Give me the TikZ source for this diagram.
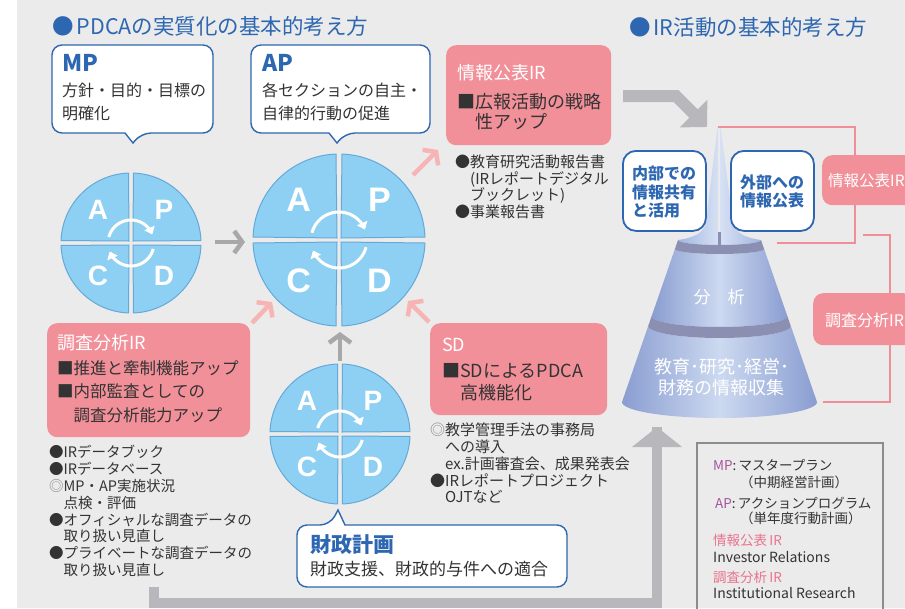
\documentclass[tikz,border=0pt]{standalone}
\usepackage{fontspec}
\setmainfont{Noto Sans CJK JP}
\newfontfamily\wheelfont{Liberation Sans}
\usetikzlibrary{arrows.meta}

\definecolor{pagebg}{HTML}{EBEBEB}
\definecolor{mainblue}{HTML}{2E67B1}
\definecolor{pinkfill}{HTML}{F2909A}
\definecolor{txtdark}{HTML}{333333}
\definecolor{arrowgray}{HTML}{B7B7BC}
\definecolor{chevgray}{HTML}{A8A8A8}
\definecolor{chevpink}{HTML}{F6B4B4}
\definecolor{pinkline}{HTML}{EF8E97}
\definecolor{legendline}{HTML}{8C8C8C}
\definecolor{legpurple}{HTML}{A4559B}
\definecolor{legpink}{HTML}{EA728D}
\definecolor{wheelfill}{HTML}{8ED0F4}
\definecolor{wheeledge}{HTML}{66A9D7}
\definecolor{coneside}{HTML}{8A9DD1}
\definecolor{conemid}{HTML}{CCD9F0}
\definecolor{conering}{HTML}{8B8FB1}
\definecolor{spireside}{HTML}{A2B6E2}
\definecolor{spiremid}{HTML}{D8E2F4}
\definecolor{markgray}{HTML}{8A8A8A}

\newcommand\fs[2]{\fontsize{#1}{#2}\selectfont}

% PDCA wheel: #1 name prefix, #2 cx, #3 cy, #4 radius, #5 letter size, #6 cycle radius
\newcommand\pdcawheel[6]{%
  \foreach \a/\sx/\sy in {180/-1/-1,270/1/-1,0/1/1,90/-1/1}{%
    \filldraw[wheelpart] ({#2+2*\sx},{#3+2*\sy}) -- plot[domain=\a+2:\a+88,samples=40] ({#2+#4*cos(\x)},{#3+#4*sin(\x)}) -- cycle;
  }
  \node[wheelletter,font=\wheelfont\bfseries\fs{#5}{#5}] (#1A) at ({#2-0.47*#4},{#3-0.47*#4}) {A};
  \node[wheelletter,font=\wheelfont\bfseries\fs{#5}{#5}] (#1P) at ({#2+0.47*#4},{#3-0.47*#4}) {P};
  \node[wheelletter,font=\wheelfont\bfseries\fs{#5}{#5}] (#1C) at ({#2-0.47*#4},{#3+0.47*#4}) {C};
  \node[wheelletter,font=\wheelfont\bfseries\fs{#5}{#5}] (#1D) at ({#2+0.47*#4},{#3+0.47*#4}) {D};
  \draw[cyclearrow] plot[domain=195:338,samples=40] ({#2+#6*cos(\x)},{#3+#6*sin(\x)});
  \draw[cyclearrow] plot[domain=15:158,samples=40] ({#2+#6*cos(\x)},{#3+#6*sin(\x)});
}

\begin{document}
\begin{tikzpicture}[x=1pt,y=-1pt,
  bodytext/.style={inner sep=0pt,anchor=west,align=left,text=txtdark},
  whitetext/.style={inner sep=0pt,anchor=west,align=left,text=white},
  bluetext/.style={inner sep=0pt,anchor=west,align=left,text=mainblue},
  pinkbox/.style={fill=pinkfill,rounded corners=10pt,inner sep=0pt,anchor=north west},
  bluebox/.style={draw=mainblue,line width=1.8pt,fill=white,rounded corners=13pt,inner sep=0pt,anchor=north west},
  callout/.style={draw=mainblue,line width=1.4pt,fill=white},
  wheelpart/.style={fill=wheelfill,draw=wheeledge,line width=1pt},
  wheelletter/.style={inner sep=0pt,text=white},
  cyclearrow/.style={draw=white,line width=3pt,-{Triangle[length=7pt,width=11pt]}},
  grayband/.style={draw=arrowgray,line width=10pt,line join=miter},
  chevgrayarrow/.style={draw=chevgray,line width=4.5pt,-{Straight Barb[length=8pt,width=22pt]}},
  chevpinkarrow/.style={draw=chevpink,line width=4.5pt,-{Straight Barb[length=8pt,width=22pt]}},
  bracket/.style={draw=pinkline,line width=2.5pt},
]
\useasboundingbox (0,0) rectangle (905,608);
\fill[white] (0,0) rectangle (905,608);
\fill[pagebg] (17,0) rectangle (905,608);

% ---------- headings ----------
\node[bluetext,font=\fs{21.5}{21.5}] (pdcaHead) at (52,26) {●\hspace{3pt}PDCAの実質化の基本的考え方};
\node[bluetext,font=\fs{21.5}{21.5}] (irHead) at (629,27) {●\hspace{3pt}IR活動の基本的考え方};

% ---------- long gray arrows ----------
\coordinate (listFoot) at (154,587);
\coordinate (baseCorner) at (657,603);
\coordinate (coneFoot) at (657,427);
\draw[grayband] (listFoot) |- (baseCorner) -- (coneFoot);
\fill[arrowgray] (632,447) -- (682,447) -- (coneFoot) -- cycle;

\coordinate (kohoOut) at (623,96);
\coordinate (kohoBend) at (676,96);
\coordinate (coneTopIn) at (707,127);
\draw[draw=arrowgray,line width=12pt,line join=miter,-{Triangle[length=19pt,width=38pt]}] (kohoOut) -- (kohoBend) -- (coneTopIn);

% ---------- cone ----------
% spire halves
\shade[left color=spireside,right color=spiremid]
  (717.5,127) -- (706,222) .. controls (704,234) and (692,238) .. (678,240)
  -- plot[domain=0:90,samples=20] ({719.5-41.5*cos(\x)},{240+5*sin(\x)})
  -- (718,245) -- (718,130) -- cycle;
\shade[left color=spiremid,right color=spireside]
  (720.5,127) -- (733,222) .. controls (735,234) and (747,238) .. (761,240)
  -- plot[domain=0:90,samples=20] ({719.5+41.5*cos(\x)},{240+5*sin(\x)})
  -- (720,245) -- (720,130) -- cycle;
% middle section
\shade[left color=coneside,right color=coneside,middle color=conemid]
  (674.9,249) -- plot[domain=0:180,samples=40] ({719.5-44.6*cos(\x)},{249+5*sin(\x)})
  -- (787.3,316) -- plot[domain=0:180,samples=40] ({719.5+67.8*cos(\x)},{316+11*sin(\x)}) -- cycle;
% lower section
\shade[left color=coneside,right color=coneside,middle color=conemid]
  (648.2,326) -- plot[domain=0:180,samples=40] ({719.5-71.3*cos(\x)},{326+12*sin(\x)})
  -- (817,402) -- plot[domain=0:180,samples=50] ({719.5+97.5*cos(\x)},{402+16*sin(\x)}) -- cycle;
% rings
\fill[conering]
  (678,240) -- plot[domain=0:180,samples=40] ({719.5-41.5*cos(\x)},{240+5*sin(\x)})
  -- (764.1,249) -- plot[domain=0:180,samples=40] ({719.5+44.6*cos(\x)},{249+5*sin(\x)}) -- cycle;
\fill[conering] (717.5,232) rectangle (720.5,246);
\fill[conering]
  (651.7,316) -- plot[domain=0:180,samples=40] ({719.5-67.8*cos(\x)},{316+11*sin(\x)})
  -- (790.8,326) -- plot[domain=0:180,samples=40] ({719.5+71.3*cos(\x)},{326+12*sin(\x)}) -- cycle;
\node[inner sep=0pt,text=white,font=\fs{17}{17}] (analysisText) at (719,297) {分\hspace{1em}析};
\node[inner sep=0pt,text=white,align=center,font=\fs{18}{21}] (collectText) at (721.5,377.5) {教育･研究･経営･\\財務の情報収集};

% ---------- right side boxes ----------
\node[bluebox,minimum width=83pt,minimum height=80pt] (innerBox) at (622,150) {};
\node[bluetext,font=\bfseries\fs{16}{18.5}] (innerText) at (632,192) {内部での\\情報共有\\と活用};
\node[bluebox,minimum width=83pt,minimum height=80pt] (outerBox) at (730,150) {};
\node[bluetext,font=\bfseries\fs{16}{18}] (outerText) at (740,191.5) {外部への\\情報公表};

\node[pinkbox,minimum width=95pt,minimum height=50pt] (kohoTag) at (822,155) {};
\node[whitetext,font=\fs{15.5}{15.5}] (kohoTagText) at (828,181) {情報公表IR};
\node[pinkbox,minimum width=100pt,minimum height=52pt] (chosaTag) at (813,293) {};
\node[whitetext,font=\fs{16}{16}] (chosaTagText) at (825,320) {調査分析IR};

\coordinate (spireTip) at (718,127);
\coordinate (kohoTagN) at (855,155);
\coordinate (kohoTagS) at (855,205);
\coordinate (analysisIn) at (777,243);
\coordinate (ringIn) at (863,235);
\coordinate (chosaTagN) at (890,293);
\coordinate (chosaTagS) at (890,345);
\coordinate (baseIn) at (823,402);
\draw[bracket] (spireTip) -| (kohoTagN);
\draw[bracket] (kohoTagS) |- (analysisIn);
\draw[bracket] (ringIn) -| (chosaTagN);
\draw[bracket] (chosaTagS) |- (baseIn);

% ---------- legend ----------
\draw[draw=legendline,line width=2pt] (697,620) -- (697,443) -- (883,443) -- (883,620);
\node[bodytext,font=\fs{13.5}{13.5}] (legMP) at (713,465) {{\color{legpurple}MP}:\,マスタープラン};
\node[bodytext,font=\fs{13.5}{13.5}] (legMPsub) at (740,482) {（中期経営計画）};
\node[bodytext,font=\fs{13.5}{13.5}] (legAP) at (715,503) {{\color{legpurple}AP}:\,アクションプログラム};
\node[bodytext,font=\fs{13.5}{13.5}] (legAPsub) at (740,518) {（単年度行動計画）};
\node[bodytext,font=\fs{13.5}{13.5},text=legpink] (legKoho) at (713,540) {情報公表\,IR};
\node[bodytext,font=\fs{14}{14}] (legKohoEn) at (713,557) {Investor Relations};
\node[bodytext,font=\fs{13.5}{13.5},text=legpink] (legChosa) at (713,577) {調査分析\,IR};
\node[bodytext,font=\fs{14}{14}] (legChosaEn) at (713,593) {Institutional Research};

% ---------- callouts ----------
\draw[callout] (125,133) [rounded corners=10pt] -- (52,133) -- (52,45) -- (213,45) -- (213,133) -- (141,133) [sharp corners] -- (133,143) -- cycle;
\node[bluetext,font=\bfseries\fs{23}{23}] (mpTitle) at (62,63) {MP};
\node[bodytext,font=\fs{16}{23}] (mpText) at (62,101.5) {方針・目的・目標の\\明確化};

\draw[callout] (329,133) [rounded corners=10pt] -- (251,133) -- (251,45) -- (430,45) -- (430,133) -- (345,133) [sharp corners] -- (337,143) -- cycle;
\node[bluetext,font=\bfseries\fs{23}{23}] (apTitle) at (262,63) {AP};
\node[bodytext,font=\fs{16}{23}] (apText) at (262,101.5) {各セクションの自主・\\自律的行動の促進};

\draw[callout] (345,525) [rounded corners=10pt] -- (567,525) -- (567,587) -- (297,587) -- (297,525) -- (330,525) [sharp corners] -- (338,510) -- cycle;
\node[bluetext,font=\bfseries\fs{21}{21}] (zaiseiTitle) at (310,545) {財政計画};
\node[bodytext,font=\fs{17}{17}] (zaiseiText) at (310,569) {財政支援、財政的与件への適合};

% ---------- pink boxes ----------
\node[pinkbox,minimum width=165pt,minimum height=100pt] (kohoBox) at (446,45) {};
\node[whitetext,font=\fs{18}{18}] (kohoTitle) at (457,73) {情報公表IR};
\node[bodytext,font=\fs{18}{20}] (kohoText) at (457,112) {■広報活動の戦略\\\phantom{■}性アップ};
\node[bodytext,font=\fs{15}{16.67}] (kohoList) at (455,187) {●教育研究活動報告書\\\phantom{●}(IRレポートデジタル\\\phantom{●}ブックレット)\\●事業報告書};

\node[pinkbox,minimum width=203pt,minimum height=114pt] (chosaBox) at (47,323) {};
\node[whitetext,font=\fs{18}{18}] (chosaTitle) at (57,343) {調査分析IR};
\node[bodytext,font=\fs{16.5}{23.5}] (chosaText) at (57,391.5) {■推進と牽制機能アップ\\■内部監査としての\\\phantom{■}調査分析能力アップ};
\node[bodytext,font=\fs{14.5}{16.86}] (chosaList) at (49,511) {●IRデータブック\\●IRデータベース\\{\color{markgray}◎}MP・AP実施状況\\\phantom{●}点検・評価\\●オフィシャルな調査データの\\\phantom{●}取り扱い見直し\\●プライベートな調査データの\\\phantom{●}取り扱い見直し};

\node[pinkbox,minimum width=177pt,minimum height=92pt] (sdBox) at (430,323) {};
\node[whitetext,font=\fs{18}{18}] (sdTitle) at (442,345) {SD};
\node[bodytext,font=\fs{18}{22}] (sdText) at (442,382) {■SDによるPDCA\\\phantom{■}高機能化};
\node[bodytext,font=\fs{15}{16.75}] (sdList) at (430,463.5) {{\color{markgray}◎}教学管理手法の事務局\\\phantom{◎}への導入\\\phantom{◎}ex.計画審査会、成果発表会\\●IRレポートプロジェクト\\\phantom{●}OJTなど};

% ---------- PDCA wheels ----------
\pdcawheel{ws}{131}{243}{70}{28}{23}
\pdcawheel{wb}{339}{240}{86}{34}{28}
\pdcawheel{wl}{340}{434}{70}{28}{23}

% ---------- short arrows ----------
\coordinate (wsOut) at (215,242);
\coordinate (wbIn) at (245,242);
\draw[chevgrayarrow] (wsOut) -- (wbIn);
\coordinate (wlOut) at (340,361);
\coordinate (wbBottom) at (340,332);
\draw[chevgrayarrow] (wlOut) -- (wbBottom);
\coordinate (wbOutNE) at (413,175);
\coordinate (kohoIn) at (438,150);
\draw[chevpinkarrow] (wbOutNE) -- (kohoIn);
\coordinate (chosaOut) at (252,323);
\coordinate (wbInSW) at (272,302);
\draw[chevpinkarrow] (chosaOut) -- (wbInSW);
\coordinate (sdOut) at (429,322);
\coordinate (wbInSE) at (408,301);
\draw[chevpinkarrow] (sdOut) -- (wbInSE);
\end{tikzpicture}
\end{document}
